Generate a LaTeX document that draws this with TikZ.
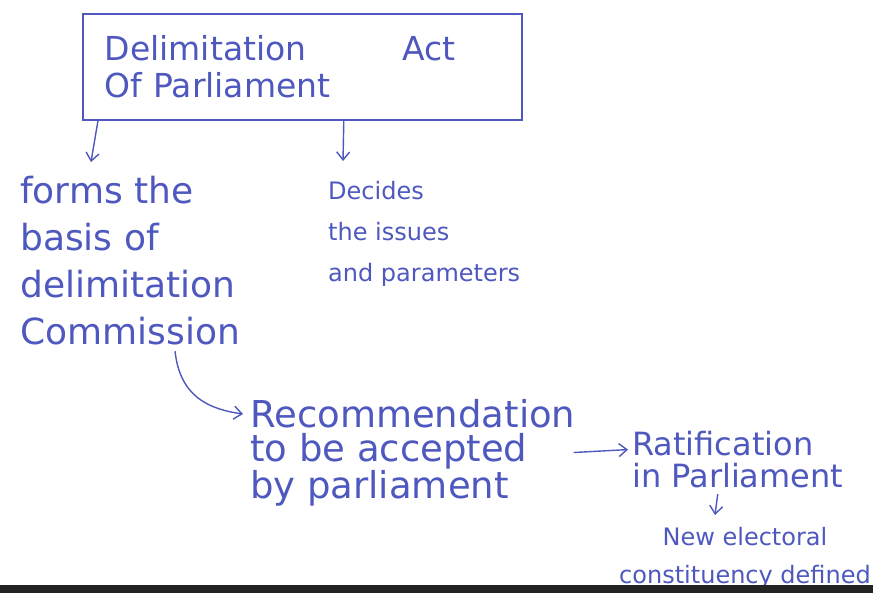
\documentclass[tikz,border=0pt]{standalone}
\usepackage{fontspec}
\setmainfont{DejaVu Sans}
\usetikzlibrary{arrows.meta}
\definecolor{ink}{RGB}{78,88,190}
\definecolor{barcol}{RGB}{35,35,35}
\begin{document}
\begin{tikzpicture}[x=1pt,y=-1pt,
  txt/.style={anchor=north west, inner sep=0pt, align=left, text=ink},
  conn/.style={draw=ink, line width=1.4pt, -{Straight Barb[length=8pt,width=13pt]}},
]
\useasboundingbox (0,0) rectangle (873,597);
\fill[white] (0,0) rectangle (873,597);
% title box
\node[draw=ink, line width=1.6pt, rectangle, anchor=north west,
      minimum width=439pt, minimum height=106pt, inner sep=0pt,
      text width=395pt, align=left, text=ink,
      font=\fontsize{33}{37}\selectfont] (act) at (82,13)
  {Delimitation\hspace{2.9em}Act\\Of Parliament};
% left branch
\node[txt, font=\fontsize{36}{47}\selectfont] (forms) at (20,176)
  {forms the\\basis of\\delimitation\\Commission};
% middle branch
\node[txt, font=\fontsize{24}{41}\selectfont] (decides) at (328,181)
  {Decides\\the issues\\and parameters};
% recommendation
\node[txt, font=\fontsize{37}{34}\selectfont] (rec) at (250,399)
  {Recommendation\\to be accepted\\by parliament};
% ratification
\node[txt, font=\fontsize{32}{32}\selectfont] (rat) at (632,431)
  {Ratification\\in Parliament};
% new constituency
\node[inner sep=0pt, anchor=north, align=center, text=ink,
      font=\fontsize{24}{38}\selectfont] (new) at (745,527)
  {New electoral\\constituency defined};
% connectors
\draw[conn] ([xshift=16pt]act.south west) -- ([xshift=71pt,yshift=14pt]forms.north west);
\draw[conn] ([xshift=41.5pt]act.south) -- ([xshift=15pt,yshift=20pt]decides.north west);
\draw[conn] ([xshift=45pt,yshift=-6pt]forms.south) .. controls +(5,45) and +(-35,-5) .. ([xshift=-7pt,yshift=-15pt]rec.north west);
\draw[conn] ([xshift=-2pt]rec.east) -- ([xshift=-4pt,yshift=10pt]rat.west);
\draw[conn] ([xshift=-20pt,yshift=-6pt]rat.south) -- ([xshift=-30pt,yshift=12pt]new.north);
% bottom bar
\fill[barcol] (0,585) rectangle (873,593);
\end{tikzpicture}
\end{document}
